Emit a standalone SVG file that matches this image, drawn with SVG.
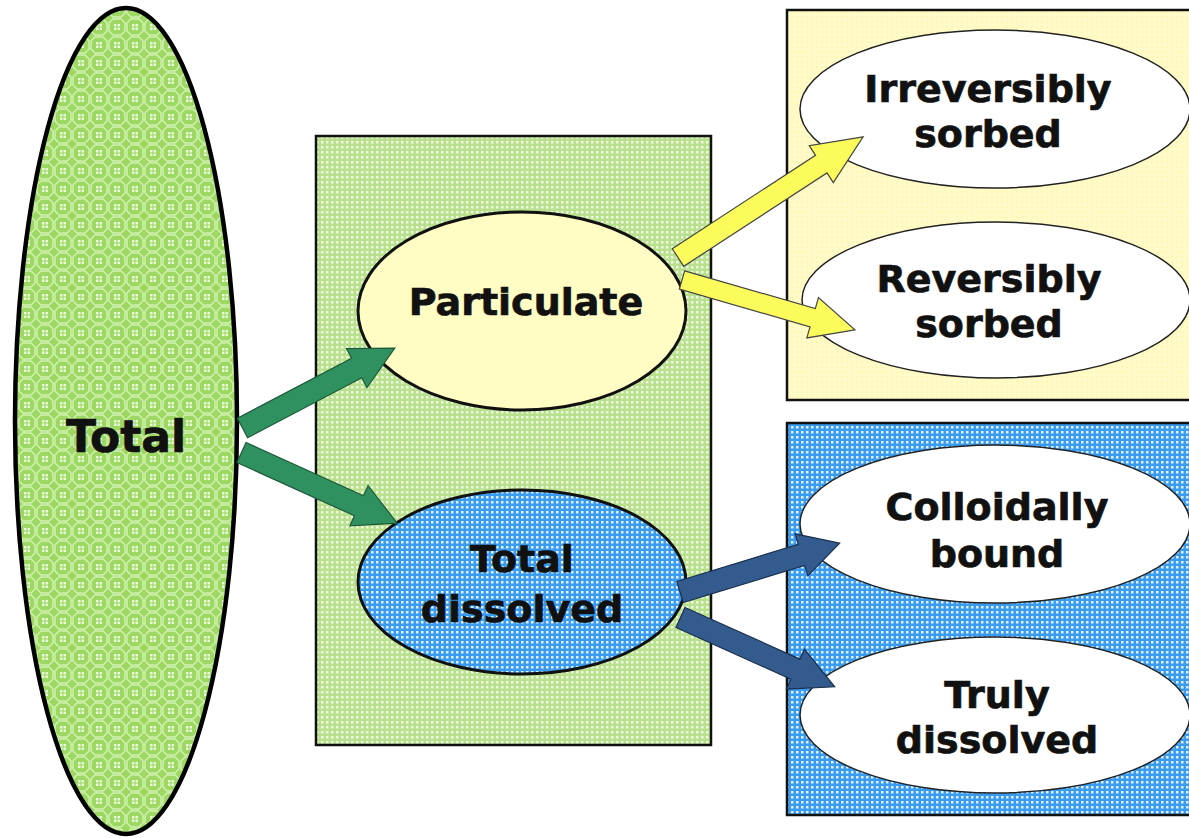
<svg xmlns="http://www.w3.org/2000/svg" width="1189" height="838" viewBox="0 0 1189 838">
<defs>
<pattern id="pTotal" width="18" height="18" patternUnits="userSpaceOnUse">
<rect width="18" height="18" fill="#9cd862"/>
<polygon points="5,1 13,1 17,5 17,13 13,17 5,17 1,13 1,5" fill="none" stroke="#d2f0b0" stroke-width="1.5"/>
<rect x="6" y="6" width="2.5" height="2.5" fill="#e8f8d8"/>
<rect x="9.5" y="6" width="2.5" height="2.5" fill="#e8f8d8"/>
<rect x="6" y="9.5" width="2.5" height="2.5" fill="#e8f8d8"/>
<rect x="9.5" y="9.5" width="2.5" height="2.5" fill="#e8f8d8"/>
</pattern>
<pattern id="pGreen" width="5" height="5" patternUnits="userSpaceOnUse">
<rect width="5" height="5" fill="#b9e08c"/>
<rect x="1" y="1" width="2.5" height="2.5" fill="#eef9e2"/>
</pattern>
<pattern id="pBlue" width="5" height="5" patternUnits="userSpaceOnUse">
<rect width="5" height="5" fill="#3a9cf0"/>
<rect x="1" y="1" width="2.5" height="2.5" fill="#dff0ff"/>
</pattern>
<pattern id="pYellow" width="5" height="5" patternUnits="userSpaceOnUse">
<rect width="5" height="5" fill="#fffbc8"/>
<rect x="1" y="1" width="2" height="2" fill="#fff6b4"/>
</pattern>
</defs>
<style>
text{font-family:"DejaVu Sans","Verdana",sans-serif;font-weight:bold;fill:#111;stroke:#111;stroke-width:0.7;text-anchor:middle}
.t37{font-size:38px}
.box{stroke:#111;stroke-width:2.5}
.wel{fill:#fff;stroke:#222;stroke-width:1.5}
.ag{fill:#2f9160;stroke:#1d5a3b;stroke-width:1.2}
.ay{fill:#fbfb5c;stroke:#444;stroke-width:1.2}
.ab{fill:#335b8e;stroke:#1a2f4d;stroke-width:1.2}
</style>
<rect width="1189" height="838" fill="#fff"/>

<g id="box-particulate-group">
<rect class="box" x="787" y="10" width="420" height="390" fill="url(#pYellow)"/>
</g>
<g id="box-dissolved-group">
<rect class="box" x="787" y="423" width="420" height="392" fill="url(#pBlue)"/>
</g>
<g id="box-middle">
<rect class="box" x="316" y="136" width="395" height="609" fill="url(#pGreen)"/>
</g>

<g id="node-total">
<ellipse cx="126" cy="421" rx="111" ry="413" fill="url(#pTotal)" stroke="#000" stroke-width="4.5"/>
<text x="126" y="452" style="font-size:44px">Total</text>
</g>
<g id="node-particulate">
<ellipse cx="522" cy="311" rx="164" ry="99" fill="#fffcc4" stroke="#111" stroke-width="3"/>
<text class="t37" x="526" y="315">Particulate</text>
</g>
<g id="node-totaldissolved">
<ellipse cx="522" cy="582" rx="164" ry="92" fill="url(#pBlue)" stroke="#111" stroke-width="3"/>
<text class="t37" x="522" y="572">Total</text>
<text class="t37" x="522" y="622">dissolved</text>
</g>
<g id="node-irreversibly">
<ellipse class="wel" cx="995" cy="109" rx="195" ry="79"/>
<text class="t37" x="988" y="102">Irreversibly</text>
<text class="t37" x="988" y="147">sorbed</text>
</g>
<g id="node-reversibly">
<ellipse class="wel" cx="996" cy="300" rx="194" ry="78"/>
<text class="t37" x="989" y="292">Reversibly</text>
<text class="t37" x="989" y="337">sorbed</text>
</g>
<g id="node-colloidally">
<ellipse class="wel" cx="995" cy="524" rx="195" ry="79"/>
<text class="t37" x="997" y="520">Colloidally</text>
<text class="t37" x="997" y="567">bound</text>
</g>
<g id="node-truly">
<ellipse class="wel" cx="995" cy="715" rx="195" ry="78"/>
<text class="t37" x="997" y="708">Truly</text>
<text class="t37" x="997" y="753">dissolved</text>
</g>

<g id="connectors">
<polygon class="ag" transform="translate(242.5,428) rotate(-27.7)" points="0,-11 129,-11 129,-22 172,0 129,22 129,11 0,11"/>
<polygon class="ag" transform="translate(241.5,452.5) rotate(24.4)" points="0,-11 129,-11 129,-22 171,0 129,22 129,11 0,11"/>
<polygon class="ay" transform="translate(678,257.5) rotate(-33.1)" points="0,-10.5 171,-10.5 171,-22 221,0 171,22 171,10.5 0,10.5"/>
<polygon class="ay" transform="translate(682,280) rotate(16.1)" points="0,-9.5 136,-9.5 136,-21 180,0 136,21 136,9.5 0,9.5"/>
<polygon class="ab" transform="translate(680,592) rotate(-17)" points="0,-11 127,-11 127,-22 167,0 127,22 127,11 0,11"/>
<polygon class="ab" transform="translate(680.5,617.5) rotate(24.2)" points="0,-11 126,-11 126,-22 169,0 126,22 126,11 0,11"/>
</g>
</svg>
